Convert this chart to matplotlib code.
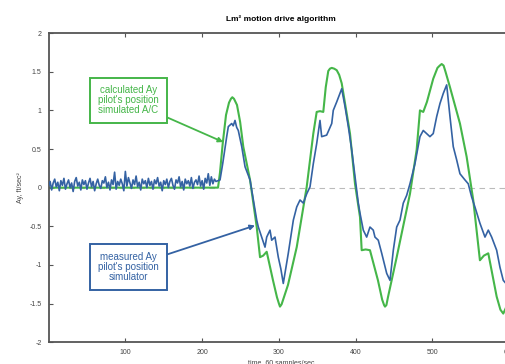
import matplotlib
matplotlib.use("Agg")
import matplotlib.pyplot as plt
import numpy as np

plt.rcParams["font.family"] = ["Liberation Sans", "DejaVu Sans"]

# calculated Ay, pilot's position, simulated A/C (green)
green_t = [0, 220.7, 223.3, 226.8, 231.1, 235.0, 237.5, 239.3, 241.5, 245.4, 249.5, 253.6,
           262.4, 271.1, 275.4, 279.5, 284.1, 292.3, 297.5, 300.0, 301.4, 303.5, 305.5,
           311.8, 323.2, 336.2, 344.8, 349.2, 353.5, 357.8, 361.0, 364.3, 366.5, 368.8,
           372.0, 375.3, 378.5, 381.8, 392.6, 399.1, 405.6, 407.8, 413.0, 418.6, 429.0,
           434.5, 437.0, 438.2, 440.0, 442.0, 453.4, 470.7, 479.4, 483.7, 488.0, 492.8,
           501.0, 506.5, 509.5, 512.0, 514.5, 517.0, 522.8, 535.8, 544.5, 553.1, 561.8,
           567.0, 572.7, 583.6, 588.5, 592.2, 595.0, 600.0]
green_ay = [0.0, 0.0, 0.20, 0.57, 0.94, 1.10, 1.15, 1.17, 1.15, 1.07, 0.85, 0.53,
            0.10, -0.51, -0.90, -0.88, -0.83, -1.20, -1.42, -1.50, -1.54, -1.51, -1.45,
            -1.26, -0.77, 0.01, 0.70, 0.98, 0.99, 0.98, 1.30, 1.51, 1.54, 1.55,
            1.54, 1.52, 1.46, 1.35, 0.70, 0.05, -0.38, -0.81, -0.80, -0.81, -1.20,
            -1.45, -1.52, -1.54, -1.52, -1.42, -0.90, -0.08, 0.49, 1.00, 0.98, 1.11,
            1.41, 1.55, 1.58, 1.60, 1.58, 1.50, 1.30, 0.83, 0.40, -0.16, -0.94,
            -0.88, -0.85, -1.41, -1.58, -1.63, -1.57, -1.45]

# measured Ay, pilot's position, simulator (blue): quiet stretch, 2 samples apart
blue_quiet = [0.02, 0.08, -0.03, 0.06, 0.11, 0.01, 0.07, -0.04, 0.09, 0.03, 0.12, -0.02,
              0.05, 0.10, 0.00, 0.06, -0.05, 0.08, 0.13, 0.02, 0.07, -0.03, 0.10, 0.04,
              0.09, -0.02, 0.06, 0.12, 0.01, 0.08, -0.04, 0.05, 0.11, 0.03, -0.01, 0.09,
              0.06, 0.14, 0.00, 0.07, -0.03, 0.10, 0.04, 0.20, -0.02, 0.08, 0.03, 0.11,
              0.05, -0.04, 0.21, 0.02, 0.13, 0.06, -0.01, 0.10, 0.04, 0.15, 0.01, 0.07,
              -0.03, 0.11, 0.05, 0.09, 0.00, 0.12, 0.03, 0.08, -0.02, 0.10, 0.05, 0.13,
              0.02, 0.07, -0.04, 0.09, 0.04, 0.11, 0.00, 0.08, 0.12, 0.03, -0.02, 0.10,
              0.06, 0.14, 0.01, 0.08, -0.03, 0.11, 0.05, 0.09, 0.02, 0.13, -0.01, 0.07,
              0.10, 0.04, 0.15, 0.02, 0.09, -0.02, 0.12, 0.06, 0.18, 0.03, 0.14, 0.05,
              0.11, 0.08]
# ... then the swings
blue_t = [223.3, 226.8, 232.0, 234.1, 238.5, 240.5, 242.8, 245.0, 247.1, 251.6, 255.9,
          262.4, 264.6, 266.7, 271.1, 273.2, 277.6, 281.9, 284.1, 288.4, 290.6, 294.9,
          299.2, 302.5, 305.7, 312.2, 318.8, 323.2, 327.5, 331.8, 336.2, 340.5, 344.8,
          349.2, 353.5, 355.7, 362.2, 368.8, 370.8, 375.3, 379.6, 381.8, 386.1, 390.4,
          394.8, 399.1, 403.4, 405.6, 409.9, 414.3, 418.6, 422.9, 425.1, 429.4, 433.9,
          440.4, 444.7, 449.0, 453.4, 457.7, 462.0, 466.4, 470.7, 477.2, 483.7, 488.0,
          492.4, 496.7, 501.0, 505.5, 509.8, 514.1, 518.5, 522.8, 527.1, 531.5, 535.8,
          542.3, 546.6, 551.0, 555.3, 561.8, 568.4, 572.7, 577.1, 583.6, 587.9, 592.2,
          595.7, 600.0]
blue_ay = [0.10, 0.31, 0.66, 0.79, 0.83, 0.80, 0.87, 0.78, 0.74, 0.53, 0.27,
           0.10, -0.03, -0.16, -0.42, -0.51, -0.64, -0.77, -0.64, -0.55, -0.68, -0.64,
           -0.90, -1.05, -1.24, -0.85, -0.42, -0.25, -0.16, -0.20, -0.08, 0.01, 0.31,
           0.57, 0.87, 0.66, 0.68, 0.83, 1.00, 1.11, 1.22, 1.28, 1.05, 0.79,
           0.49, 0.14, -0.20, -0.33, -0.55, -0.64, -0.51, -0.55, -0.64, -0.68, -0.85,
           -1.11, -1.20, -0.81, -0.51, -0.42, -0.20, -0.10, 0.05, 0.31, 0.66, 0.74,
           0.70, 0.66, 0.70, 0.92, 1.09, 1.22, 1.33, 0.92, 0.53, 0.36, 0.18,
           0.10, 0.05, -0.12, -0.25, -0.46, -0.64, -0.55, -0.64, -0.81, -1.03, -1.20,
           -1.24, -1.30]

GREEN = "#45b649"
BLUE = "#3462a3"
GREY = "#555555"

fig = plt.figure(figsize=(5.06, 3.64), dpi=100)
ax = fig.add_axes([0.096, 0.060, 0.918, 0.849])

quiet_t = np.arange(len(blue_quiet)) * 2
ax.axhline(0, color="#bbbbbb", lw=0.8, ls=(0, (5, 4)), zorder=1)
ax.plot(green_t, green_ay, color=GREEN, lw=1.5, zorder=2)
ax.plot(list(quiet_t) + blue_t, blue_quiet + blue_ay, color=BLUE, lw=1.2, zorder=3)

ax.set_xlim(0, 605)
ax.set_ylim(-2, 2)
ax.set_xticks([100, 200, 300, 400, 500, 600])
ax.set_yticks([-2, -1.5, -1, -0.5, 0, 0.5, 1, 1.5, 2])
ax.set_yticklabels(["-2", "-1.5", "-1", "-0.5", "0", "0.5", "1", "1.5", "2"])
ax.tick_params(direction="in", length=3, width=0.8, color=GREY, labelsize=5,
               labelcolor="#444444", top=True, right=True, pad=5)
for s in ax.spines.values():
    s.set_color(GREY)
    s.set_linewidth(1.3)

ax.set_title("Lm² motion drive algorithm", fontsize=6, fontweight="bold", pad=9)
ax.set_ylabel("Ay, ft/sec²", fontsize=5, color="#444444", labelpad=4)
ax.set_xlabel("time, 60 samples/sec", fontsize=5, color="#444444", labelpad=3)

box = dict(boxstyle="square,pad=0.8", fc="white", lw=1.4)
ax.annotate("calculated Ay\npilot's position\nsimulated A/C", xy=(227.5, 0.59),
            xytext=(103.9, 1.13), ha="center", va="center", fontsize=7,
            color=GREEN, linespacing=1.0, bbox=dict(box, ec=GREEN),
            arrowprops=dict(arrowstyle="-|>", color=GREEN, lw=1.3,
                            mutation_scale=7, shrinkA=0, shrinkB=0))
ax.annotate("measured Ay\npilot's position\nsimulator", xy=(268.9, -0.49),
            xytext=(103.9, -1.03), ha="center", va="center", fontsize=7,
            color=BLUE, linespacing=1.0, bbox=dict(box, ec=BLUE),
            arrowprops=dict(arrowstyle="-|>", color=BLUE, lw=1.3,
                            mutation_scale=7, shrinkA=0, shrinkB=0))

fig.savefig("out.png", dpi=100)
